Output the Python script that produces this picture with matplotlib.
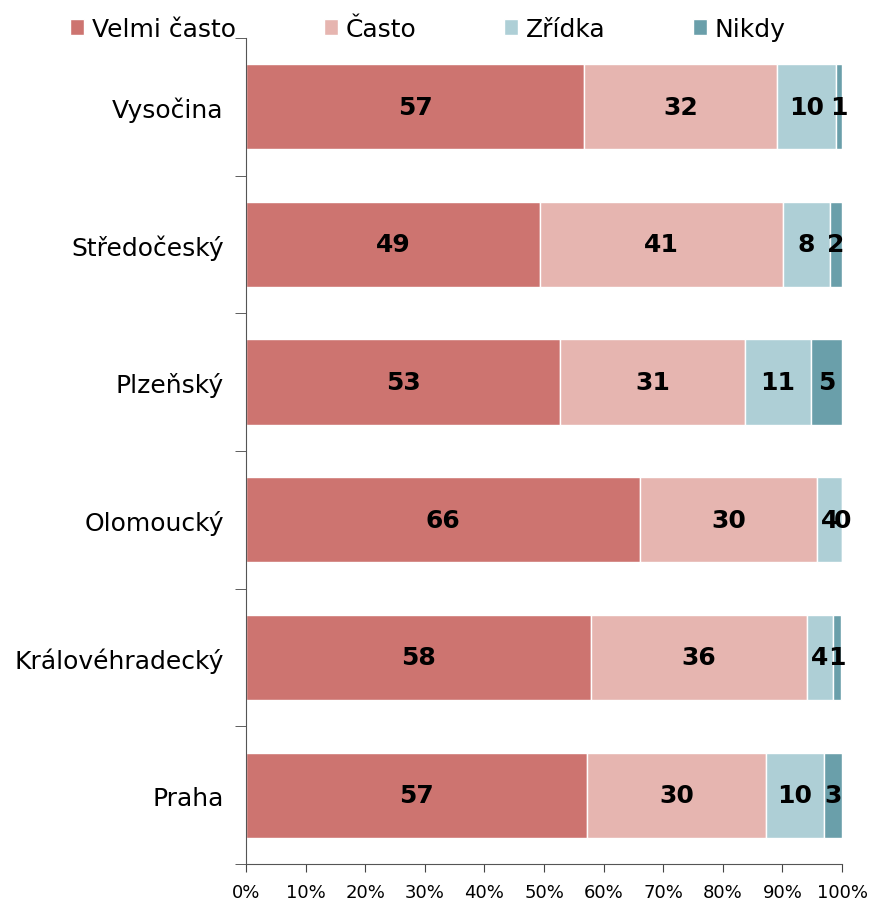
import matplotlib.pyplot as plt
import numpy as np

regions = ['Vysočina', 'Středočeský', 'Plzeňský', 'Olomoucký', 'Královéhradecký', 'Praha']
series = ['Velmi často', 'Často', 'Zřídka', 'Nikdy']
velmi_casto = [56.7, 49.3, 52.7, 66.1, 57.9, 57.2]
casto = [32.4, 40.8, 31.0, 29.7, 36.2, 30.0]
zridka = [9.9, 7.9, 11.1, 4.2, 4.4, 9.8]
nikdy = [1.0, 2.0, 5.2, 0.0, 1.4, 3.0]
colors = ['#CD7470', '#E6B5B0', '#AECFD6', '#6A9FAA']

values = [velmi_casto, casto, zridka, nikdy]

fig = plt.figure(figsize=(8.69, 9.04), dpi=100)
ax = fig.add_axes([0.2831, 0.0431, 0.969 - 0.2831, 0.957 - 0.0431])

y = np.arange(len(regions))
left = np.zeros(len(regions))
for name, vals, c in zip(series, values, colors):
    vals = np.array(vals)
    ax.barh(y, vals, left=left, height=0.62, color=c, edgecolor='white',
            linewidth=1, label=name)
    for yi, l, v in zip(y, left, vals):
        ax.text(l + v / 2, yi, '%.0f' % v, ha='center', va='center',
                fontsize=18, fontweight='bold', color='black')
    left += vals

ax.set_xlim(0, 100)
ax.set_ylim(len(regions) - 0.5, -0.5)
ax.set_xticks(np.arange(0, 101, 10))
ax.set_xticklabels(['%d%%' % v for v in range(0, 101, 10)], fontsize=13)
ax.set_yticks(y)
ax.set_yticklabels(regions, fontsize=18)
ax.tick_params(axis='y', length=0, pad=16)
ax.set_yticks(np.arange(-0.5, len(regions)), minor=True)
ax.tick_params(axis='y', which='minor', length=8, direction='out', color='#444444')
ax.tick_params(axis='x', length=6, direction='out', color='#444444', pad=8)

for s in ['top', 'right']:
    ax.spines[s].set_visible(False)
for s in ['left', 'bottom']:
    ax.spines[s].set_color('#555555')

fig.legend(*ax.get_legend_handles_labels(), loc='center left',
           bbox_to_anchor=(0.0806, 0.967), ncol=4, frameon=False, fontsize=18,
           handlelength=0.56, handleheight=0.56, handletextpad=0.32,
           columnspacing=3.5, borderpad=0, borderaxespad=0)

plt.savefig('out.png', dpi=100)
plt.close()
